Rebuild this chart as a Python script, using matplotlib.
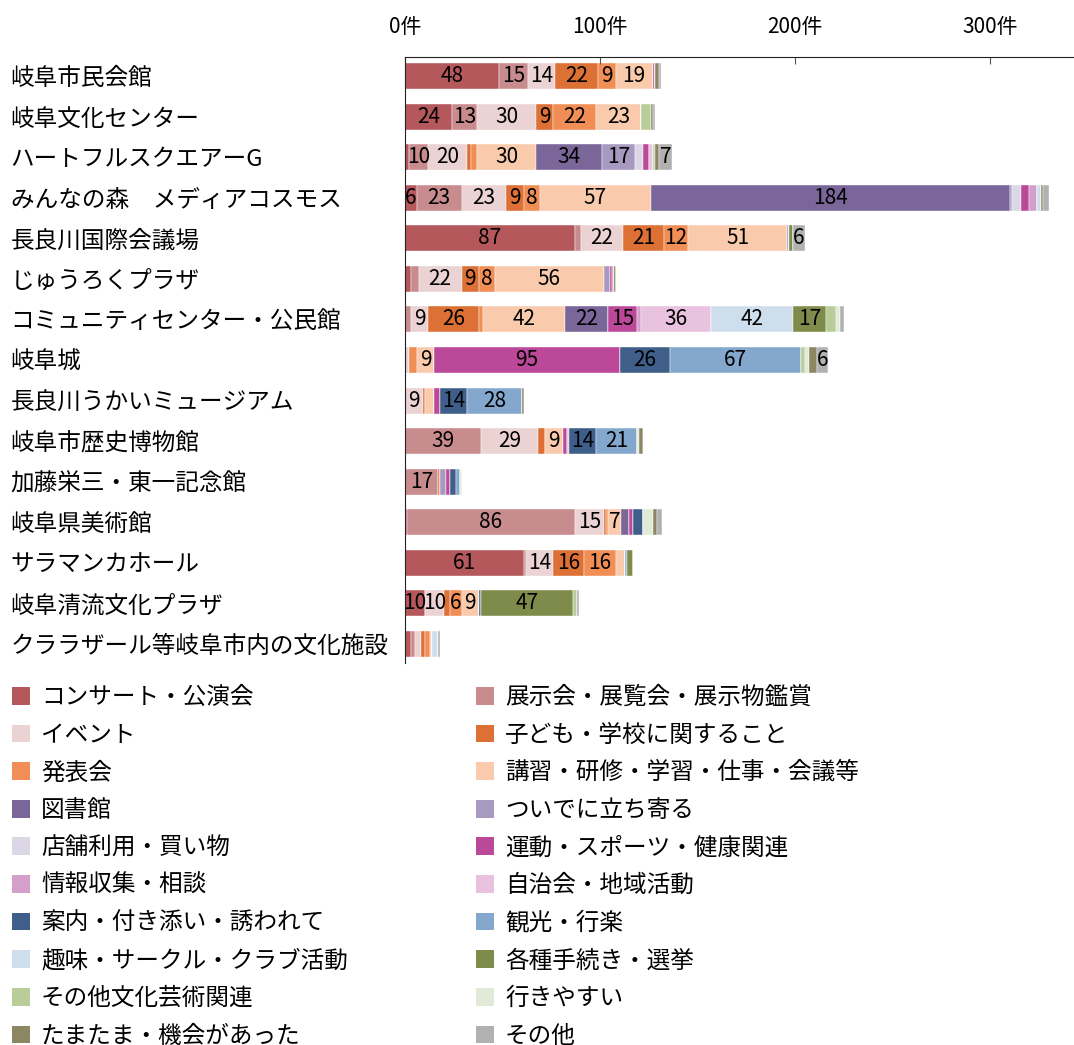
import numpy as np
import matplotlib
matplotlib.use("Agg")
import matplotlib.pyplot as plt
from matplotlib.patches import Patch

plt.rcParams['font.family'] = ['Noto Sans CJK JP', 'DejaVu Sans']

# facilities (top to bottom)
categories = ['岐阜市民会館', '岐阜文化センター', 'ハートフルスクエアーG', 'みんなの森　メディアコスモス',
              '長良川国際会議場', 'じゅうろくプラザ', 'コミュニティセンター・公民館', '岐阜城',
              '長良川うかいミュージアム', '岐阜市歴史博物館', '加藤栄三・東一記念館', '岐阜県美術館',
              'サラマンカホール', '岐阜清流文化プラザ', 'クララザール等岐阜市内の文化施設']

# purposes (counts per facility, same order as categories)
concert   = [48, 24, 2, 6, 87, 3, 0, 0, 0, 0, 0, 1, 61, 10, 3]
exhibit   = [15, 13, 10, 23, 3, 4, 3, 0, 0, 39, 17, 86, 1, 0, 2]
event     = [14, 30, 20, 23, 22, 22, 9, 2, 9, 29, 0, 15, 14, 10, 3]
children  = [22, 9, 2, 9, 21, 9, 26, 0, 1, 4, 1, 1, 16, 3, 2]
recital   = [9, 22, 3, 8, 12, 8, 2, 4, 0, 0, 0, 1, 16, 6, 3]
lecture   = [19, 23, 30, 57, 51, 56, 42, 9, 5, 9, 0, 7, 5, 9, 1]
library   = [0, 0, 34, 184, 0, 0, 22, 0, 0, 0, 0, 4, 0, 0, 0]
dropin    = [0, 0, 17, 1, 1, 3, 0, 0, 0, 0, 3, 0, 0, 0, 0]
shopping  = [0, 0, 4, 5, 0, 0, 0, 0, 0, 0, 0, 0, 0, 0, 0]
sports    = [1, 0, 3, 4, 0, 1, 15, 95, 3, 2, 2, 2, 0, 0, 0]
info      = [0, 0, 0, 4, 0, 1, 2, 0, 0, 0, 0, 0, 0, 0, 0]
community = [0, 0, 2, 0, 0, 0, 36, 0, 0, 1, 0, 0, 0, 0, 0]
guided    = [0, 0, 0, 0, 0, 0, 0, 26, 14, 14, 3, 5, 0, 1, 0]
tourism   = [0, 0, 0, 0, 0, 0, 0, 67, 28, 21, 2, 0, 1, 0, 0]
hobby     = [0, 0, 0, 2, 0, 0, 42, 0, 0, 0, 0, 0, 0, 0, 3]
procedure = [0, 0, 0, 0, 2, 1, 17, 0, 0, 0, 0, 0, 3, 47, 0]
otherart  = [0, 5, 1, 0, 0, 0, 5, 2, 0, 0, 0, 0, 0, 2, 0]
easy      = [0, 0, 0, 0, 0, 0, 2, 2, 0, 1, 1, 5, 0, 0, 0]
chance    = [2, 1, 2, 1, 0, 0, 0, 4, 1, 2, 0, 2, 0, 0, 0]
other     = [1, 1, 7, 3, 6, 0, 2, 6, 0, 0, 0, 3, 0, 1, 1]

series_names = ['コンサート・公演会', '展示会・展覧会・展示物鑑賞', 'イベント', '子ども・学校に関すること',
                '発表会', '講習・研修・学習・仕事・会議等', '図書館', 'ついでに立ち寄る',
                '店舗利用・買い物', '運動・スポーツ・健康関連', '情報収集・相談', '自治会・地域活動',
                '案内・付き添い・誘われて', '観光・行楽', '趣味・サークル・クラブ活動', '各種手続き・選挙',
                'その他文化芸術関連', '行きやすい', 'たまたま・機会があった', 'その他']
series = [concert, exhibit, event, children, recital, lecture, library, dropin, shopping, sports,
          info, community, guided, tourism, hobby, procedure, otherart, easy, chance, other]
colors = ['#b4585c', '#c98c8e', '#ebd2d3', '#dc7035', '#f08e55', '#f9cbac', '#7a6699', '#a899c0',
          '#dcd7e6', '#bb4898', '#d49fca', '#e8c2de', '#3f5f8a', '#84a8cd', '#cedeed', '#7f8b4b',
          '#b9cd99', '#e0ead6', '#8c8663', '#b1b1b1']
xticks = [0, 100, 200, 300]

W, H = 1074, 1045
fig = plt.figure(figsize=(W / 100, H / 100), dpi=100)
ax = fig.add_axes([405 / W, 1 - 663 / H, (W - 405) / W, (663 - 57) / H])

y = np.arange(len(categories))
left = np.zeros(len(categories))
for vals, c in zip(series, colors):
    vals = np.array(vals, dtype=float)
    ax.barh(y, vals, left=left, height=0.64, color=c, edgecolor='white', linewidth=0.3)
    for yi, (l, v) in enumerate(zip(left, vals)):
        if v >= 6:
            ax.text(l + v / 2, yi, f'{int(v)}', ha='center', va='center', fontsize=15, color='black')
    left += vals

ax.set_xlim(0, 343)
ax.set_ylim(len(categories) - 0.53, -0.47)
ax.xaxis.tick_top()
ax.set_xticks(xticks)
ax.set_xticklabels([f'{t}件' for t in xticks], fontsize=15)
ax.tick_params(axis='x', direction='in', length=5, pad=14, color='#555555')
ax.set_yticks(y)
ax.set_yticklabels(categories, fontsize=17, ha='left')
ax.tick_params(axis='y', length=0, pad=284)
for s in ['right', 'bottom']:
    ax.spines[s].set_visible(False)
ax.spines['top'].set_color('#222222')
ax.spines['left'].set_color('#222222')

handles = [Patch(facecolor=c, edgecolor='none') for c in colors]
legend_kw = dict(frameon=False, fontsize=17, handlelength=0.78, handleheight=0.78,
                 handletextpad=0.45, labelspacing=0.62, borderpad=0, borderaxespad=0)
fig.legend(handles[0::2], series_names[0::2], loc='upper left',
           bbox_to_anchor=(12 / W, 1 - 686 / H), **legend_kw)
fig.legend(handles[1::2], series_names[1::2], loc='upper left',
           bbox_to_anchor=(476 / W, 1 - 686 / H), **legend_kw)

fig.savefig('out.png', dpi=100)
